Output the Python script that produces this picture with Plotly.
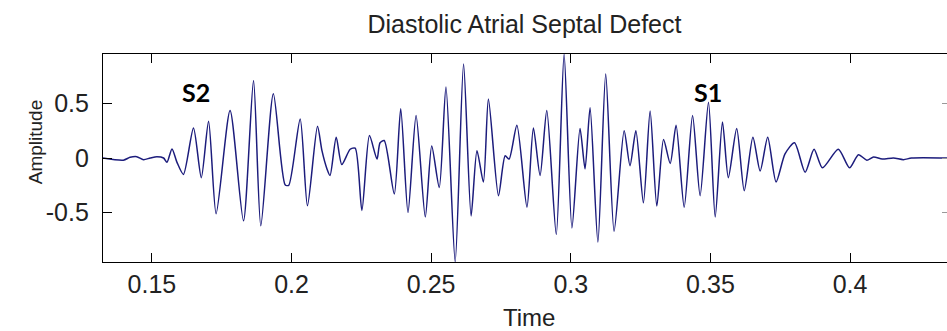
import plotly.graph_objects as go

# Waveform (time in s, amplitude)
time = [0.1325, 0.1398, 0.1422, 0.1446, 0.1470, 0.1494, 0.1518, 0.1542, 0.1554, 0.1572,
        0.1590, 0.1613, 0.1649, 0.1677, 0.1703, 0.1730, 0.1780, 0.1828, 0.1864, 0.1890,
        0.1935, 0.1977, 0.1990, 0.2031, 0.2057, 0.2093, 0.2109, 0.2127, 0.2138, 0.2160,
        0.2180, 0.2210, 0.2228, 0.2252, 0.2279, 0.2306, 0.2317, 0.2332, 0.2368, 0.2391,
        0.2417, 0.2446, 0.2479, 0.2502, 0.2529, 0.2553, 0.2586, 0.2616, 0.2643, 0.2664,
        0.2687, 0.2705, 0.2741, 0.2765, 0.2779, 0.2807, 0.2843, 0.2866, 0.2890, 0.2914,
        0.2948, 0.2976, 0.3004, 0.3033, 0.3051, 0.3069, 0.3097, 0.3125, 0.3155, 0.3191,
        0.3212, 0.3233, 0.3260, 0.3284, 0.3308, 0.3332, 0.3356, 0.3377, 0.3406, 0.3436,
        0.3463, 0.3493, 0.3517, 0.3543, 0.3564, 0.3594, 0.3621, 0.3652, 0.3678, 0.3705,
        0.3735, 0.3767, 0.3801, 0.3839, 0.3871, 0.3901, 0.3958, 0.3998, 0.4030, 0.4060,
        0.4084, 0.4115, 0.4155, 0.4191, 0.4220, 0.4347]
amplitude = [0.0, -0.02, 0.006, 0.012, -0.015, 0.0, 0.012, 0.0, -0.04, 0.083,
             -0.04, -0.15, 0.275, -0.18, 0.336, -0.51, 0.434, -0.575, 0.71, -0.62,
             0.587, -0.245, -0.25, 0.358, -0.437, 0.29, 0.067, -0.10, -0.16, 0.19,
             -0.06, 0.08, 0.09, -0.48, 0.205, -0.01, 0.14, 0.16, -0.33, 0.45,
             -0.50, 0.39, -0.54, 0.11, -0.27, 0.65, -0.95, 0.86, -0.53, 0.067,
             -0.22, 0.54, -0.345, 0.02, -0.01, 0.30, -0.45, 0.275, -0.16, 0.434,
             -0.70, 0.95, -0.64, 0.27, -0.10, 0.46, -0.77, 0.77, -0.67, 0.25,
             -0.07, 0.25, -0.41, 0.43, -0.44, 0.17, -0.05, 0.30, -0.45, 0.39,
             -0.345, 0.51, -0.54, 0.33, -0.18, 0.27, -0.30, 0.19, -0.12, 0.19,
             -0.22, 0.037, 0.14, -0.13, 0.08, -0.09, 0.08, -0.09, 0.03, -0.02,
             0.01, -0.01, 0.0, -0.015, 0.0, 0.0]

x_ticks = [0.15, 0.2, 0.25, 0.3, 0.35, 0.4]
x_tick_labels = ["0.15", "0.2", "0.25", "0.3", "0.35", "0.4"]
y_ticks = [-0.5, 0, 0.5]
y_tick_labels = ["-0.5", "0", "0.5"]

labels = ["S2", "S1"]
label_x = [0.1659, 0.3492]
label_y = [0.60, 0.60]

X_RANGE = [0.1325, 0.4347]
Y_RANGE = [-0.952, 0.952]

FONT = "Liberation Sans, Arial, sans-serif"

fig = go.Figure()
fig.add_trace(go.Scatter(x=time, y=amplitude, mode="lines",
                         line=dict(color="#1c1c7c", width=1.5, shape="spline", smoothing=0.7),
                         showlegend=False))
# invisible trace to carry the right-hand tick marks
fig.add_trace(go.Scatter(x=[time[0]], y=[amplitude[0]], yaxis="y2", mode="lines",
                         line=dict(width=0), showlegend=False, hoverinfo="skip"))

for t, xv, yv in zip(labels, label_x, label_y):
    fig.add_annotation(x=xv, y=yv, text="<b>%s</b>" % t, showarrow=False,
                       font=dict(family="Lato, sans-serif", size=25, color="black"))

fig.add_annotation(xref="paper", yref="paper", x=-0.0948, y=0.578, text="Amplitude",
                   textangle=-90, showarrow=False,
                   font=dict(family=FONT, size=19, color="#222"))
fig.add_annotation(xref="paper", yref="paper", x=0.5047, y=-0.269, text="Time",
                   showarrow=False, yanchor="middle",
                   font=dict(family=FONT, size=24, color="#222"))

fig.update_layout(
    width=947, height=331,
    margin=dict(l=103, r=0, t=54, b=69),
    paper_bgcolor="white", plot_bgcolor="white",
    title=dict(text="Diastolic Atrial Septal Defect", x=0.5538, xanchor="center",
               y=1 - 24 / 331, yanchor="middle",
               font=dict(family=FONT, size=25, color="#222")),
    xaxis=dict(range=X_RANGE, tickvals=x_ticks, ticktext=x_tick_labels,
               showline=True, linecolor="black", linewidth=1.2, mirror="ticks",
               ticks="inside", ticklen=9, tickcolor="black", showgrid=False,
               zeroline=False, ticklabelstandoff=0,
               tickfont=dict(family=FONT, size=25, color="#222")),
    yaxis=dict(range=Y_RANGE, tickvals=y_ticks, ticktext=y_tick_labels,
               showline=True, linecolor="black", linewidth=1.2, mirror=False,
               ticks="inside", ticklen=9, tickcolor="black", showgrid=False,
               zeroline=False, ticklabelstandoff=8,
               tickfont=dict(family=FONT, size=25, color="#222")),
    yaxis2=dict(range=Y_RANGE, tickvals=y_ticks, overlaying="y", side="right",
                showline=False, ticks="inside", ticklen=5, tickcolor="#999",
                showticklabels=False, showgrid=False, zeroline=False),
)

fig.write_html("out.html")
